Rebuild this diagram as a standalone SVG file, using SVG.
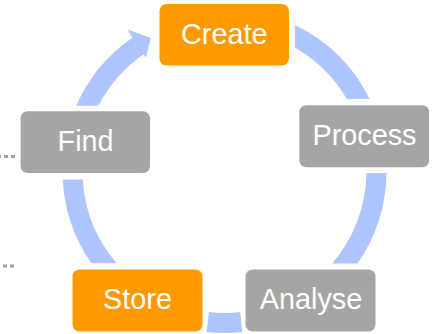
<svg xmlns="http://www.w3.org/2000/svg" width="433" height="334" viewBox="0 0 433 334">
<style>
.box{stroke:none}
.orange{fill:#FF9900}
.grey{fill:#A5A5A5}
.lbl{font-family:"Liberation Sans",Arial,sans-serif;font-size:28.8px;fill:#FFFFFF;text-anchor:middle}
.arc{fill:#ADC4FF;stroke:none}
.dots{fill:none;stroke:#A0A0A0;stroke-width:3;stroke-dasharray:4 3}
</style>
<rect width="433" height="334" fill="#FFFFFF"/>
<g id="remnants">
<path class="dots" d="M-3,156.5 H15"/>
<path class="dots" d="M3,266 H15"/>
</g>
<g id="connectors">
<path class="arc" d="M295,25.1 A162,162 0 0 1 369.6,99 L346.9,99 A142,142 0 0 0 295,47.7 Z"/>
<path class="arc" d="M386.5,173 A162,162 0 0 1 357.5,263.5 L332.2,263.5 A142,142 0 0 0 366.5,173 Z"/>
<path class="arc" d="M242.3,332 A162,162 0 0 1 206.7,332 L208.9,312.1 A142,142 0 0 0 240.1,312.1 Z"/>
<path class="arc" d="M91.4,263.3 A162,162 0 0 1 62.7,179.5 L82.8,179.5 A142,142 0 0 0 116.6,263.3 Z"/>
<path class="arc" d="M76.2,105.7 A162,162 0 0 1 132.3,37.8 L127.8,29.5 L150.7,38 L145.8,58 L143.7,54.3 A142,142 0 0 0 98.4,105.7 Z"/>
</g>
<g id="create">
<rect class="box orange" x="159.5" y="4" width="129.5" height="61.5" rx="7"/>
<text class="lbl" x="224.3" y="44">Create</text>
</g>
<g id="process">
<rect class="box grey" x="299.3" y="105.2" width="129.8" height="62" rx="7"/>
<text class="lbl" x="364.5" y="145">Process</text>
</g>
<g id="analyse">
<rect class="box grey" x="245.5" y="269.5" width="130" height="62" rx="7"/>
<text class="lbl" x="311" y="309.3">Analyse</text>
</g>
<g id="store">
<rect class="box orange" x="72.5" y="269.5" width="130" height="62" rx="7"/>
<text class="lbl" x="137.5" y="309.3">Store</text>
</g>
<g id="find">
<rect class="box grey" x="20.6" y="111.3" width="129.4" height="61.7" rx="7"/>
<text class="lbl" x="85.6" y="150.7">Find</text>
</g>
</svg>
